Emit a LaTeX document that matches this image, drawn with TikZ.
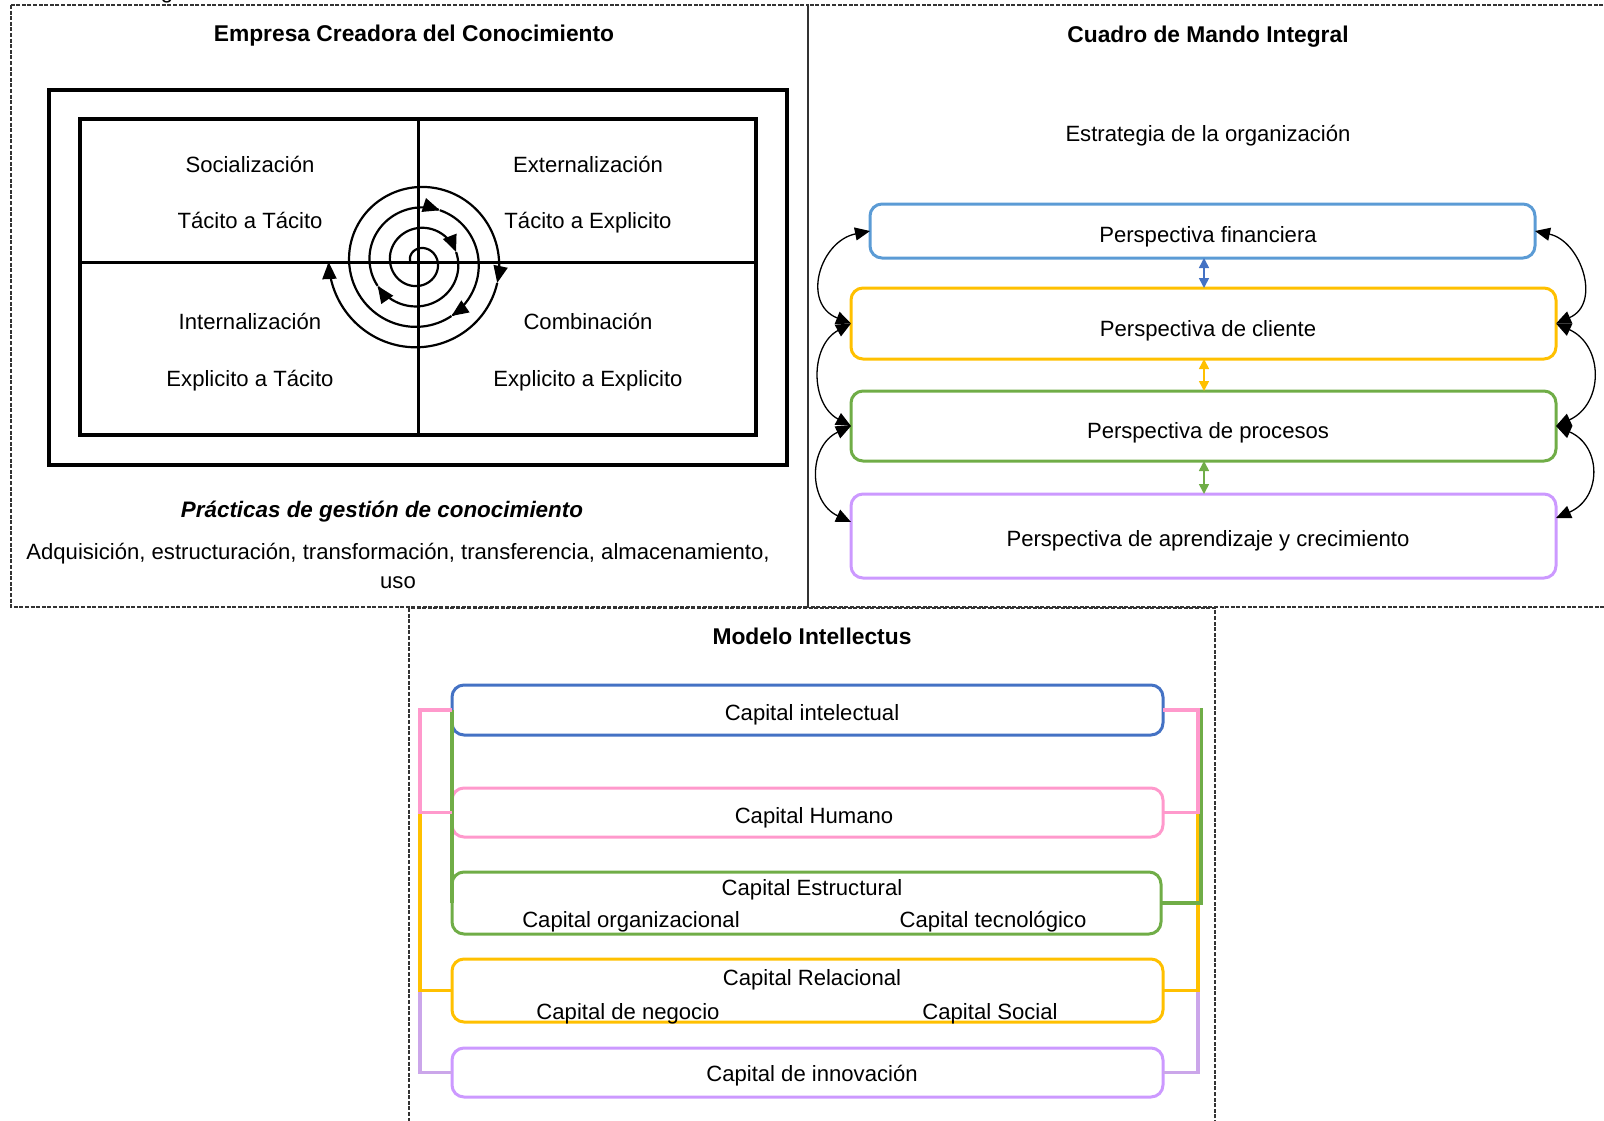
\documentclass[tikz,border=0pt]{standalone}
\usepackage{fontspec}
\setmainfont{Liberation Sans}
\usetikzlibrary{arrows.meta,calc}

\definecolor{cfin}{HTML}{5B9BD5}
\definecolor{cint}{HTML}{4472C4}
\definecolor{cyel}{HTML}{FFC000}
\definecolor{cgrn}{HTML}{70AD47}
\definecolor{cpur}{HTML}{CC99FF}
\definecolor{cpurl}{HTML}{CBA6EA}
\definecolor{cpnk}{HTML}{FF99CC}

\tikzset{
  panel/.style={draw=black!80, line width=1.1pt, dash pattern=on 4pt off 1.6pt},
  frame/.style={draw, line width=3.2pt, inner sep=0pt, outer sep=0pt},
  txt/.style={text height=16pt, text depth=0pt, inner sep=0pt},
  title/.style={txt, font=\fontsize{22.8}{26}\selectfont\bfseries},
  pbox/.style={draw, rounded corners=12pt, line width=3pt, inner sep=0pt, outer sep=0pt},
  spiral/.style={line width=2.2pt, -{Triangle[length=17pt,width=14pt]}},
  varrow/.style={line width=1.6pt, {Triangle[length=10pt,width=10pt]}-{Triangle[length=10pt,width=10pt]}},
  carrow/.style={line width=1.3pt, {Triangle[length=15pt,width=13pt]}-{Triangle[length=15pt,width=13pt]}},
  conn/.style={line width=3.4pt},
}

\begin{document}
\begin{tikzpicture}[x=1pt, y=-1pt, font=\fontsize{22.1}{26}\selectfont]
\useasboundingbox (0,0) rectangle (1604,1120);

% descender of the caption line above
\node[anchor=base, inner sep=0pt] (cap) at (167,-2) {g};

% dashed panels
\draw[panel] (11,5) rectangle (808,607);
\draw[panel] (808,5) rectangle (1620,607);
\draw[panel] (409,608) rectangle (1215,1135);

% ---------------- Empresa Creadora del Conocimiento ----------------
\node[title] (t1) at (414,33) {Empresa Creadora del Conocimiento};
\node[frame, minimum width=738, minimum height=375] (outer) at (418,277.5) {};
\node[frame, minimum width=676, minimum height=316] (inner) at (418,277) {};
\coordinate (sc) at (418,262);
\draw[line width=3pt] (inner.north -| sc) -- (inner.south -| sc);
\draw[line width=3pt] (inner.west |- sc) -- (inner.east |- sc);

\node[txt] (soc)  at (250,164) {Socialización};
\node[txt] (soc2) at (250,220) {Tácito a Tácito};
\node[txt] (ext)  at (588,164) {Externalización};
\node[txt] (ext2) at (588,220) {Tácito a Explicito};
\node[txt] (int)  at (250,321) {Internalización};
\node[txt] (int2) at (250,378) {Explicito a Tácito};
\node[txt] (com)  at (588,321) {Combinación};
\node[txt] (com2) at (588,378) {Explicito a Explicito};

% knowledge spiral, clockwise, with arrows along the way
\begin{scope}[shift={(419,262)}]
\foreach \a/\b in {180/705,705/870,870/1012,1012/1139,1139/1455,1455/1620}
  \draw[spiral] plot[domain=\a:\b, samples=90, variable=\t, smooth]
    ({(\t/17.6-1.7)*cos(\t)},{(\t/17.6-1.7)*sin(\t)});
\end{scope}

\node[txt, font=\fontsize{22.4}{26}\selectfont\bfseries\itshape] (prac) at (382,509)
  {Prácticas de gestión de conocimiento};
\node[txt] (list1) at (398,551)
  {Adquisición, estructuración, transformación, transferencia, almacenamiento,};
\node[txt] (list2) at (398,580) {uso};

% ---------------- Cuadro de Mando Integral ----------------
\node[title] (t2) at (1208,34) {Cuadro de Mando Integral};
\node[txt] (estr) at (1208,133) {Estrategia de la organización};

\node[pbox, draw=cfin, minimum width=665, minimum height=54] (fin) at (1202.5,231) {};
\node[txt] (finT) at (1208,234) {Perspectiva financiera};
\node[pbox, draw=cyel, minimum width=705, minimum height=71] (cli) at (1203.5,323.5) {};
\node[txt] (cliT) at (1208,328) {Perspectiva de cliente};
\node[pbox, draw=cgrn, minimum width=705, minimum height=70] (pro) at (1203.5,426) {};
\node[txt] (proT) at (1208,430) {Perspectiva de procesos};
\node[pbox, draw=cpur, minimum width=705, minimum height=84] (apr) at (1203.5,536) {};
\node[txt] (aprT) at (1208,538) {Perspectiva de aprendizaje y crecimiento};

\draw[varrow, cint] (fin.south -| 1204,0) -- (cli.north -| 1204,0);
\draw[varrow, cyel] (cli.south -| 1204,0) -- (pro.north -| 1204,0);
\draw[varrow, cgrn] (pro.south -| 1204,0) -- (apr.north -| 1204,0);

\draw[carrow] (fin.west) .. controls +(-50,10) and +(-50,-20) .. (cli.west);
\draw[carrow] (cli.west) .. controls +(-41,22) and +(-41,-22) .. (pro.west);
\draw[carrow] (pro.west) .. controls +(-43,20) and +(-43,-20) .. ($(apr.west)+(0,-14)$);

\draw[carrow] (fin.east) .. controls +(46,10) and +(46,-20) .. (cli.east);
\draw[carrow] (cli.east) .. controls +(48,22) and +(48,-22) .. (pro.east);
\draw[carrow] (pro.east) .. controls +(46,20) and +(46,-20) .. ($(apr.east)+(0,-18)$);

% ---------------- Modelo Intellectus ----------------
\node[title] (t3) at (812,636) {Modelo Intellectus};

\node[pbox, draw=cint, minimum width=711, minimum height=50] (cint) at (807.5,710) {};
\node[txt] (cintT) at (812,712) {Capital intelectual};
\node[pbox, draw=cpnk, minimum width=711, minimum height=49] (chum) at (807.5,812.5) {};
\node[txt] (chumT) at (814,815) {Capital Humano};
\node[pbox, draw=cgrn, minimum width=709, minimum height=62] (cest) at (806.5,903) {};
\node[txt] (cestT) at (812,887) {Capital Estructural};
\node[txt] (corg) at (631,919) {Capital organizacional};
\node[txt] (ctec) at (993,919) {Capital tecnológico};
\node[pbox, draw=cyel, minimum width=711, minimum height=63] (crel) at (807.5,990.5) {};
\node[txt] (crelT) at (812,977) {Capital Relacional};
\node[txt] (cneg) at (628,1011) {Capital de negocio};
\node[txt] (csoc) at (990,1011) {Capital Social};
\node[pbox, draw=cpur, minimum width=711, minimum height=49] (cinn) at (807.5,1072.5) {};
\node[txt] (cinnT) at (812,1073) {Capital de innovación};

% left brackets
\draw[conn, cpurl] (cint.west) -- ++(-32,0) |- (cinn.west);
\draw[conn, cyel] (cint.west) -- ++(-32,0) |- (crel.west);
\draw[conn, cgrn] (cint.west) -- (cint.west |- cest.west);
\draw[conn, cpnk] (cint.west) -- ++(-32,0) |- (chum.west);
% right brackets
\draw[conn, cpurl] (cint.east) -- ++(35,0) |- (cinn.east);
\draw[conn, cyel] (cint.east) -- ++(35,0) |- (crel.east);
\draw[conn, cgrn] (cint.east) -- ++(38,0) |- (cest.east);
\draw[conn, cpnk] (cint.east) -- ++(35,0) |- (chum.east);

\end{tikzpicture}
\end{document}
